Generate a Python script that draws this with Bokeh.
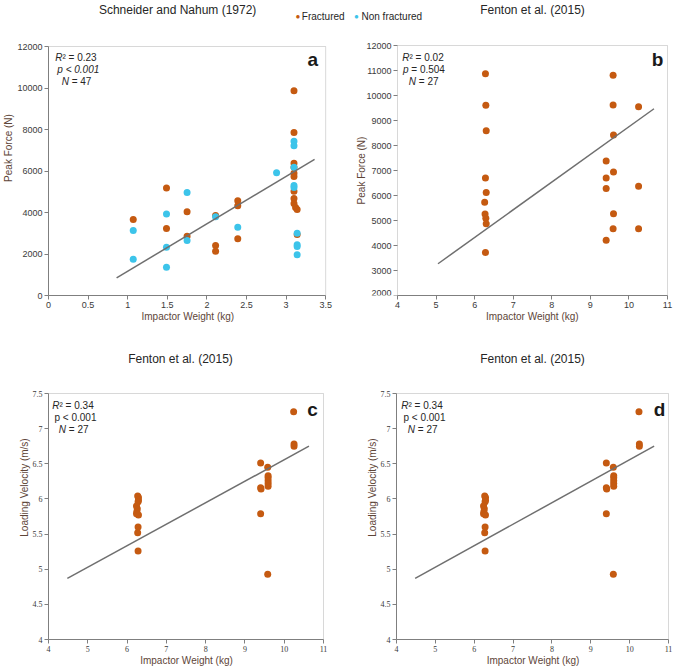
import math
from bokeh.plotting import figure
from bokeh.layouts import column, row
from bokeh.models import Label, FixedTicker, CustomJSTickFormatter, Range1d, BoxAnnotation, Title
from bokeh.embed import file_html
from bokeh.resources import INLINE

# ---------------- data ----------------
# Panel a: Schneider and Nahum (1972)
a_frac_x = [1.07, 1.49, 1.49, 1.75, 1.75, 2.11, 2.11, 2.11, 2.39, 2.39, 2.39,
            3.10, 3.10, 3.10, 3.10, 3.10, 3.10, 3.10, 3.10, 3.10, 3.12, 3.14, 3.14]
a_frac_y = [3660, 5180, 3230, 4040, 2860, 3850, 2410, 2130, 4570, 4330, 2740,
            9870, 7860, 6370, 6180, 5890, 5740, 5030, 4670, 4430, 4240, 4140, 2940]
a_non_x = [1.07, 1.07, 1.49, 1.49, 1.49, 1.75, 1.75, 2.11, 2.39, 2.88,
           3.10, 3.10, 3.10, 3.10, 3.10, 3.14, 3.14, 3.14, 3.14]
a_non_y = [3130, 1750, 3930, 2330, 1360, 4960, 2650, 3800, 3290, 5920,
           7430, 7220, 6180, 5300, 5200, 3000, 2440, 2360, 1960]
a_trend_x = [0.86, 3.36]
a_trend_y = [850, 6560]

# Panel b: Fenton et al. (2015) peak force
b_x = [6.28, 6.29, 6.30, 6.28, 6.30, 6.26, 6.27, 6.29, 6.30, 6.28,
       9.41, 9.41, 9.41, 9.41,
       9.59, 9.59, 9.60, 9.60, 9.60, 9.59,
       10.25, 10.25, 10.25]
b_y = [10870, 9610, 8590, 6700, 6120, 5730, 5260, 5090, 4870, 3720,
       7380, 6700, 6280, 4210,
       10810, 9620, 8420, 6940, 5270, 4670,
       9550, 6370, 4670]
b_trend_x = [5.05, 10.65]
b_trend_y = [3270, 9470]

# Panels c/d: Fenton et al. (2015) loading velocity
c_x = [6.27, 6.29, 6.29, 6.28, 6.24, 6.26, 6.25, 6.24, 6.29, 6.28, 6.27, 6.28,
       9.40, 9.40, 9.41, 9.40,
       9.58, 9.59, 9.59, 9.59, 9.59, 9.59, 9.58,
       10.24, 10.25, 10.25]
c_y = [6.04, 6.02, 5.98, 5.96, 5.90, 5.86, 5.82, 5.79, 5.77, 5.60, 5.52, 5.26,
       6.51, 6.16, 6.14, 5.79,
       6.45, 6.33, 6.30, 6.26, 6.22, 6.18, 4.93,
       7.24, 6.78, 6.75]
c_trend_x = [4.48, 10.63]
c_trend_y = [4.87, 6.75]

a_xticks = [0, 0.5, 1, 1.5, 2, 2.5, 3, 3.5]
a_yticks = [0, 2000, 4000, 6000, 8000, 10000, 12000]
b_xticks = [4, 5, 6, 7, 8, 9, 10, 11]
b_yticks = [2000, 3000, 4000, 5000, 6000, 7000, 8000, 9000, 10000, 11000, 12000]
c_xticks = [4, 5, 6, 7, 8, 9, 10, 11]
c_yticks = [4, 4.5, 5, 5.5, 6, 6.5, 7, 7.5]

ORANGE = "#c55a11"
CYAN = "#3cc4ea"
AXIS_LBL = "#5e4538"
TICK_LBL = "#3a3a3a"
LINE = "#7f7f7f"
TREND = "#6f6f6f"
TXT = "#262626"
SANS = "Liberation Sans"
SERIF = "Liberation Serif"
NB = "\u00a0"
XLABEL_W = 93  # approx. width of the x-axis title at 10px

fmt = CustomJSTickFormatter(code="return String(Math.round(tick*1000)/1000);")


def dx(g, px):
    return g["xr"][0] + (px - g["fl"]) / (g["fr"] - g["fl"]) * (g["xr"][1] - g["xr"][0])


def dy(g, py):
    return g["yr"][0] + (g["fb"] - py) / (g["fb"] - g["ft"]) * (g["yr"][1] - g["yr"][0])


def style_axis(ax, ticks, lbl, bnds, tick_font, tick_size):
    ax.ticker = FixedTicker(ticks=ticks)
    ax.formatter = fmt
    ax.bounds = bnds
    if lbl:
        ax.axis_label = lbl
    ax.axis_label_text_font = SANS
    ax.axis_label_text_font_size = "10px"
    ax.axis_label_text_font_style = "normal"
    ax.axis_label_text_color = AXIS_LBL
    ax.axis_label_standoff = 0
    ax.major_label_text_font = tick_font
    ax.major_label_text_font_size = tick_size
    ax.major_label_text_color = TICK_LBL
    ax.major_label_standoff = 2
    ax.axis_line_color = LINE
    ax.major_tick_line_color = LINE
    ax.minor_tick_line_color = None
    ax.major_tick_out = 4
    ax.major_tick_in = 0


def make_fig(w, h, fl, fr, ft, fb, xr, yr, xticks, yticks, xlabel, ylabel, tick_font, tick_size,
             frame_right, own_yaxis=True, xlabel_as_title=False, frame_left_abs=0):
    # the frame runs from fl (or the canvas left) to frame_right and from the canvas
    # top to fb; the real plot box (xr, yr) sits at fl..fr / ft..fb
    g = dict(fl=fl, fr=fr, ft=ft, fb=fb, xr=xr, yr=yr)
    x_start = xr[0] if own_yaxis else dx(g, 0)
    kw = {} if own_yaxis else {"y_axis_type": None}
    p = figure(width=w, height=h, output_backend="svg", toolbar_location=None,
               x_range=Range1d(x_start, dx(g, frame_right)), y_range=Range1d(yr[0], dy(g, 0)),
               min_border_left=fl if own_yaxis else 0, min_border_right=w - frame_right,
               min_border_top=0, min_border_bottom=h - fb, **kw)
    p.outline_line_color = None
    p.xgrid.visible = False
    p.ygrid.visible = False
    p.background_fill_color = "white"
    p.border_fill_color = "white"
    style_axis(p.xaxis[0], xticks, None if xlabel_as_title else xlabel, xr, tick_font, tick_size)
    if xlabel_as_title:
        frame_left = fl if own_yaxis else 0
        centre = (fl + fr) / 2
        p.add_layout(Title(text=xlabel, align="left", offset=centre - frame_left - XLABEL_W / 2,
                           text_font=SANS, text_font_size="10px", text_font_style="normal",
                           text_color=AXIS_LBL, standoff=0, vertical_align="top"), "below")
    if own_yaxis:
        style_axis(p.yaxis[0], yticks, ylabel, yr, tick_font, tick_size)
    p.add_layout(BoxAnnotation(left=xr[0], right=xr[1], bottom=yr[0], top=yr[1],
                               fill_alpha=0, fill_color=None, line_color=LINE, line_width=1))
    return p, g


def lab(p, g, px, py, text, size="10px", style="normal", align="center", color=TXT, font=SANS,
        angle=0.0, baseline="middle"):
    p.add_layout(Label(x=dx(g, px), y=dy(g, py), text=text, text_font=font,
                       text_font_size=size, text_font_style=style, text_align=align,
                       text_baseline=baseline, text_color=color, angle=angle))


def stats(p, g, cx, y0, r2, ptext, p_italic_all, n):
    s = cx - 23
    lab(p, g, s + 7, y0, "R", style="italic", align="right")
    lab(p, g, s + 7, y0, "\u00b2" + NB + "=" + NB + r2, align="left")
    if p_italic_all:
        lab(p, g, cx, y0 + 12, ptext.replace(" ", NB), style="italic")
    elif ptext.startswith("p ="):
        s2 = cx - 23
        lab(p, g, s2 + 6, y0 + 12, "p", style="italic", align="right")
        lab(p, g, s2 + 6, y0 + 12, ptext[1:].replace(" ", NB), align="left")
    else:
        lab(p, g, cx, y0 + 12, ptext.replace(" ", NB))
    s3 = cx - 16.5
    lab(p, g, s3 + 7, y0 + 24, "N", style="italic", align="right")
    lab(p, g, s3 + 7, y0 + 24, NB + "=" + NB + n, align="left")


# ---------------- panel a (canvas x 0..350) ----------------
pa, ga = make_fig(350, 335, 46, 325, 46, 295, (0, 3.5), (0, 12000), a_xticks, a_yticks,
                  "Impactor Weight (kg)", "Peak Force (N)", SANS, "9px",
                  frame_right=350, xlabel_as_title=True)
pa.scatter(a_frac_x, a_frac_y, size=7, color=ORANGE, line_color=None)
pa.scatter(a_non_x, a_non_y, size=7, color=CYAN, line_color=None)
pa.line(a_trend_x, a_trend_y, line_color=TREND, line_width=1.5)
lab(pa, ga, 176, 9, "Schneider and Nahum (1972)", size="12px")
lab(pa, ga, 312, 59, "a", size="19px", style="bold", color="#1a1a1a")
stats(pa, ga, 76, 57, "0.23", "p < 0.001", True, "47")
lab(pa, ga, 297, 16, "\u25cf", size="8px", color=ORANGE)
lab(pa, ga, 301, 16, "Fractured", size="10px", align="left")

# ---------------- panel b (canvas x 350..674) ----------------
OX = 350
pb, gb = make_fig(324, 335, 397 - OX, 667 - OX, 45, 295, (4, 11), (2000, 12000), b_xticks, b_yticks,
                  "Impactor Weight (kg)", "Peak Force (N)", SANS, "9px",
                  frame_right=324, own_yaxis=False, xlabel_as_title=True)
pb.scatter(b_x, b_y, size=7, color=ORANGE, line_color=None)
pb.line(b_trend_x, b_trend_y, line_color=TREND, line_width=1.5)
# y axis of panel b, drawn inside its frame from the tick values
nb = len(b_yticks)
pb.segment(x0=[dx(gb, 393 - OX)] * nb, y0=b_yticks, x1=[b_xticks[0]] * nb, y1=b_yticks,
           line_color=LINE, line_width=1)
for i, v in enumerate(b_yticks):
    pb.add_layout(Label(x=dx(gb, 391 - OX), y=v, text=str(v), text_font=SANS,
                        text_font_size="9px", text_align="right",
                        text_baseline="bottom" if i == 0 else "middle",
                        text_color=TICK_LBL))
lab(pb, gb, 361 - OX, 170, "Peak Force (N)", size="10px", color=AXIS_LBL, angle=math.pi / 2)
lab(pb, gb, 532 - OX, 9, "Fenton et al. (2015)", size="12px")
lab(pb, gb, 657 - OX, 59, "b", size="19px", style="bold", color="#1a1a1a")
stats(pb, gb, 425 - OX, 57, "0.02", "p = 0.504", False, "27")
lab(pb, gb, 356 - OX, 16, "\u25cf", size="8px", color=CYAN)
lab(pb, gb, 361 - OX, 16, "Non fractured", size="10px", align="left")

# ---------------- panel c ----------------
pc, gc = make_fig(337, 335, 48, 323, 58, 304, (4, 11), (4, 7.5), c_xticks, c_yticks,
                  "Impactor Weight (kg)", "Loading Velocity (m/s)", SERIF, "8px",
                  frame_right=324)
pc.scatter(c_x, c_y, size=7, color=ORANGE, line_color=None)
pc.line(c_trend_x, c_trend_y, line_color=TREND, line_width=1.5)
lab(pc, gc, 180, 23, "Fenton et al. (2015)", size="12px")
lab(pc, gc, 312, 74, "c", size="19px", style="bold", color="#1a1a1a")
stats(pc, gc, 75, 70, "0.34", "p < 0.001", False, "27")

# ---------------- panel d ----------------
pd_, gd = make_fig(337, 335, 396 - 337, 668 - 337, 58, 304, (4, 11), (4, 7.5), c_xticks, c_yticks,
                   "Impactor Weight (kg)", "Loading Velocity (m/s)", SERIF, "8px",
                   frame_right=332)
pd_.scatter(c_x, c_y, size=7, color=ORANGE, line_color=None)
pd_.line(c_trend_x, c_trend_y, line_color=TREND, line_width=1.5)
lab(pd_, gd, 532 - 337, 23, "Fenton et al. (2015)", size="12px")
lab(pd_, gd, 659 - 337, 74, "d", size="19px", style="bold", color="#1a1a1a")
stats(pd_, gd, 424 - 337, 70, "0.34", "p < 0.001", False, "27")

layout = column(row(pa, pb, spacing=0), row(pc, pd_, spacing=0), spacing=0)
open("out.html", "w").write(file_html(layout, INLINE))
